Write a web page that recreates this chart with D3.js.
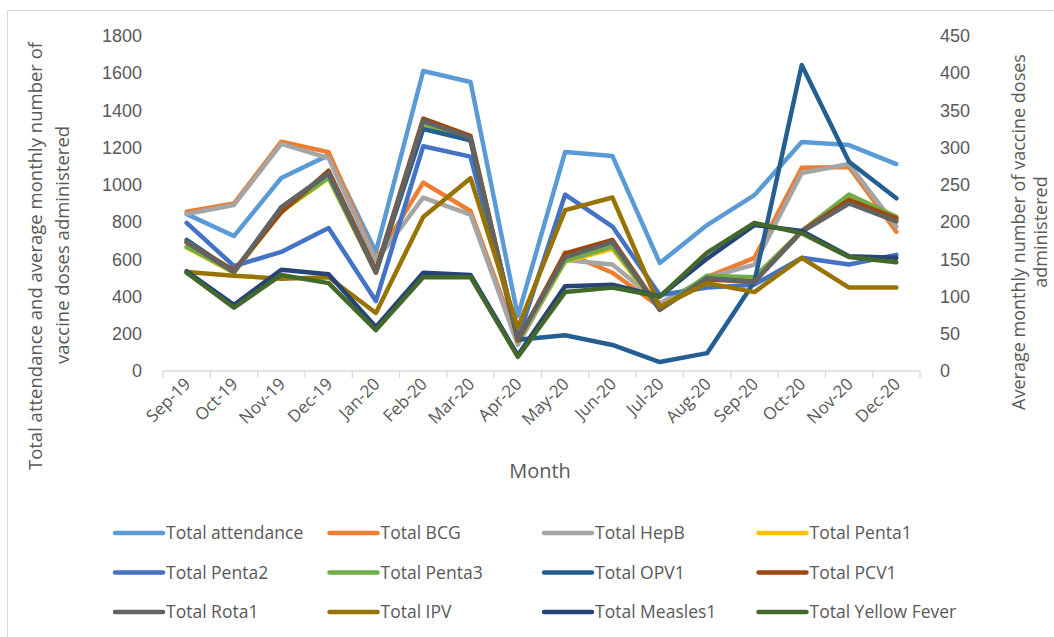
<!DOCTYPE html>
<html>
<head>
<meta charset="utf-8">
<script src="https://cdn.jsdelivr.net/npm/d3@7"></script>
<style>
  body { margin: 0; background: #fff; }
  svg { display: block; font-family: "Open Sans", "Liberation Sans", Arial, sans-serif; }
  .tick text { fill: #595959; font-size: 18px; }
  .lbl { fill: #595959; }
</style>
</head>
<body>
<svg class="chart" width="1054" height="637"></svg>
<script>
"use strict";

// categories
var months = ['Sep-19', 'Oct-19', 'Nov-19', 'Dec-19', 'Jan-20', 'Feb-20', 'Mar-20', 'Apr-20',
  'May-20', 'Jun-20', 'Jul-20', 'Aug-20', 'Sep-20', 'Oct-20', 'Nov-20', 'Dec-20'];

// left axis series
var attendance = [843, 725, 1037, 1160, 640, 1612, 1553, 295, 1177, 1155, 580, 784, 945, 1230, 1214, 1112];

// right axis series (average monthly doses)
var bcg      = [214, 225, 308, 294, 149, 253, 215, 40, 159, 132, 86, 126, 152, 273, 274, 187];
var hepB     = [211, 223, 305, 286, 148, 233, 210, 35, 149, 143, 91, 125, 143, 266, 278, 194];
var penta1   = [166, 132, 214, 259, 132, 331, 309, 40, 147, 164, 83, 127, 125, 187, 233, 205];
var penta2   = [199, 141, 160, 192, 94, 302, 288, 43, 237, 194, 102, 112, 116, 152, 143, 156];
var penta3   = [167, 133, 215, 260, 133, 333, 310, 40, 148, 167, 83, 128, 126, 188, 237, 207];
var opv1     = [176, 133, 220, 265, 133, 325, 310, 42, 48, 35, 12, 24, 120, 411, 281, 232];
var pcv1     = [173, 135, 213, 269, 135, 339, 316, 41, 158, 176, 83, 123, 120, 188, 230, 205];
var rota1    = [173, 133, 220, 266, 132, 336, 313, 43, 153, 173, 82, 125, 120, 187, 225, 201];
var ipv      = [133, 128, 124, 126, 78, 207, 259, 58, 216, 233, 86, 118, 106, 152, 112, 112];
var measles1 = [134, 89, 136, 130, 59, 132, 129, 21, 114, 116, 100, 151, 196, 188, 154, 152];
var yellowFever = [132, 85, 129, 118, 55, 126, 126, 19, 106, 112, 100, 159, 199, 185, 153, 146];

// tick labels
var leftTicks = [0, 200, 400, 600, 800, 1000, 1200, 1400, 1600, 1800];
var rightTicks = [0, 50, 100, 150, 200, 250, 300, 350, 400, 450];

var series = [
  {name: 'Total attendance', values: attendance, axis: 'left', color: '#5b9bd5'},
  {name: 'Total BCG', values: bcg, axis: 'right', color: '#ed7d31'},
  {name: 'Total HepB', values: hepB, axis: 'right', color: '#a5a5a5'},
  {name: 'Total Penta1', values: penta1, axis: 'right', color: '#ffc000'},
  {name: 'Total Penta2', values: penta2, axis: 'right', color: '#4472c4'},
  {name: 'Total Penta3', values: penta3, axis: 'right', color: '#70ad47'},
  {name: 'Total OPV1', values: opv1, axis: 'right', color: '#255e91'},
  {name: 'Total PCV1', values: pcv1, axis: 'right', color: '#9e480e'},
  {name: 'Total Rota1', values: rota1, axis: 'right', color: '#636363'},
  {name: 'Total IPV', values: ipv, axis: 'right', color: '#997300'},
  {name: 'Total Measles1', values: measles1, axis: 'right', color: '#264478'},
  {name: 'Total Yellow Fever', values: yellowFever, axis: 'right', color: '#43682b'}
];

var plot = {left: 163, right: 920, top: 36, bottom: 371};

var svg = d3.select('.chart');

// chart frame
svg.append('rect')
  .attr('x', 7.5).attr('y', 10.5).attr('width', 1100).attr('height', 700)
  .attr('fill', 'none').attr('stroke', '#d9d9d9');

var x = d3.scaleBand().domain(months).range([plot.left, plot.right]).paddingInner(0);
var yL = d3.scaleLinear().domain([0, 1800]).range([plot.bottom, plot.top]);
var yR = d3.scaleLinear().domain([0, 450]).range([plot.bottom, plot.top]);

function cx(m) {
  return x(m) + x.bandwidth() / 2;
}

// left axis
var gL = svg.append('g')
  .attr('transform', 'translate(' + plot.left + ',0)')
  .call(d3.axisLeft(yL).tickValues(leftTicks).tickFormat(d3.format('d')).tickSize(0).tickPadding(21));
gL.select('.domain').remove();

// right axis
var gR = svg.append('g')
  .attr('transform', 'translate(' + plot.right + ',0)')
  .call(d3.axisRight(yR).tickValues(rightTicks).tickFormat(d3.format('d')).tickSize(0).tickPadding(20));
gR.select('.domain').remove();

// category axis
var gX = svg.append('g')
  .attr('transform', 'translate(0,' + plot.bottom + ')');
gX.append('line')
  .attr('x1', plot.left).attr('x2', plot.right)
  .attr('stroke', '#d9d9d9').attr('stroke-width', 1.3);
gX.selectAll('.xtick')
  .data(months.concat(['end']))
  .enter()
  .append('line')
  .attr('x1', function (d, i) { return plot.left + i * x.bandwidth(); })
  .attr('x2', function (d, i) { return plot.left + i * x.bandwidth(); })
  .attr('y1', 0).attr('y2', 7)
  .attr('stroke', '#d9d9d9').attr('stroke-width', 1.3);
gX.selectAll('.xlabel')
  .data(months)
  .enter()
  .append('text')
  .attr('class', 'lbl')
  .attr('text-anchor', 'end')
  .attr('font-size', 17)
  .attr('transform', function (d) {
    return 'translate(' + (cx(d) + 5) + ',14) rotate(-45)';
  })
  .text(function (d) { return d; });

// lines
var line = d3.line()
  .x(function (d, i) { return cx(months[i]); });

svg.selectAll('.series')
  .data(series)
  .enter()
  .append('path')
  .attr('fill', 'none')
  .attr('stroke', function (d) { return d.color; })
  .attr('stroke-width', 4.5)
  .attr('stroke-linejoin', 'round')
  .attr('stroke-linecap', 'round')
  .attr('d', function (d) {
    var y = d.axis === 'left' ? yL : yR;
    return line.y(function (v) { return y(v); })(d.values);
  });

// axis titles
svg.append('text').attr('class', 'lbl')
  .attr('x', 540).attr('y', 478).attr('text-anchor', 'middle').attr('font-size', 20)
  .text('Month');

var leftTitle = svg.append('g').attr('transform', 'translate(42,256) rotate(-90)');
leftTitle.append('text').attr('class', 'lbl')
  .attr('x', 0).attr('y', 0).attr('text-anchor', 'middle').attr('font-size', 18.5)
  .text('Total attendance and average monthly  number of');
leftTitle.append('text').attr('class', 'lbl')
  .attr('x', 11).attr('y', 27).attr('text-anchor', 'middle').attr('font-size', 18.5)
  .text('vaccine doses administered');

var rightTitle = svg.append('g').attr('transform', 'translate(1025,232) rotate(-90)');
rightTitle.append('text').attr('class', 'lbl')
  .attr('x', 0).attr('y', 0).attr('text-anchor', 'middle').attr('font-size', 18)
  .text('Average monthly number of vaccine doses');
rightTitle.append('text').attr('class', 'lbl')
  .attr('x', 0).attr('y', 22).attr('text-anchor', 'middle').attr('font-size', 18)
  .text('administered');

// legend
var legend = svg.selectAll('.legend')
  .data(series)
  .enter()
  .append('g')
  .attr('transform', function (d, i) {
    return 'translate(' + (115 + (i % 4) * 214.5) + ',' + (533 + Math.floor(i / 4) * 39.5) + ')';
  });
legend.append('line')
  .attr('x1', 0).attr('x2', 48)
  .attr('stroke', function (d) { return d.color; })
  .attr('stroke-width', 4.5)
  .attr('stroke-linecap', 'round');
legend.append('text')
  .attr('class', 'lbl')
  .attr('x', 51).attr('dy', '0.35em')
  .attr('font-size', 17.5)
  .text(function (d) { return d.name; });
</script>
</body>
</html>
